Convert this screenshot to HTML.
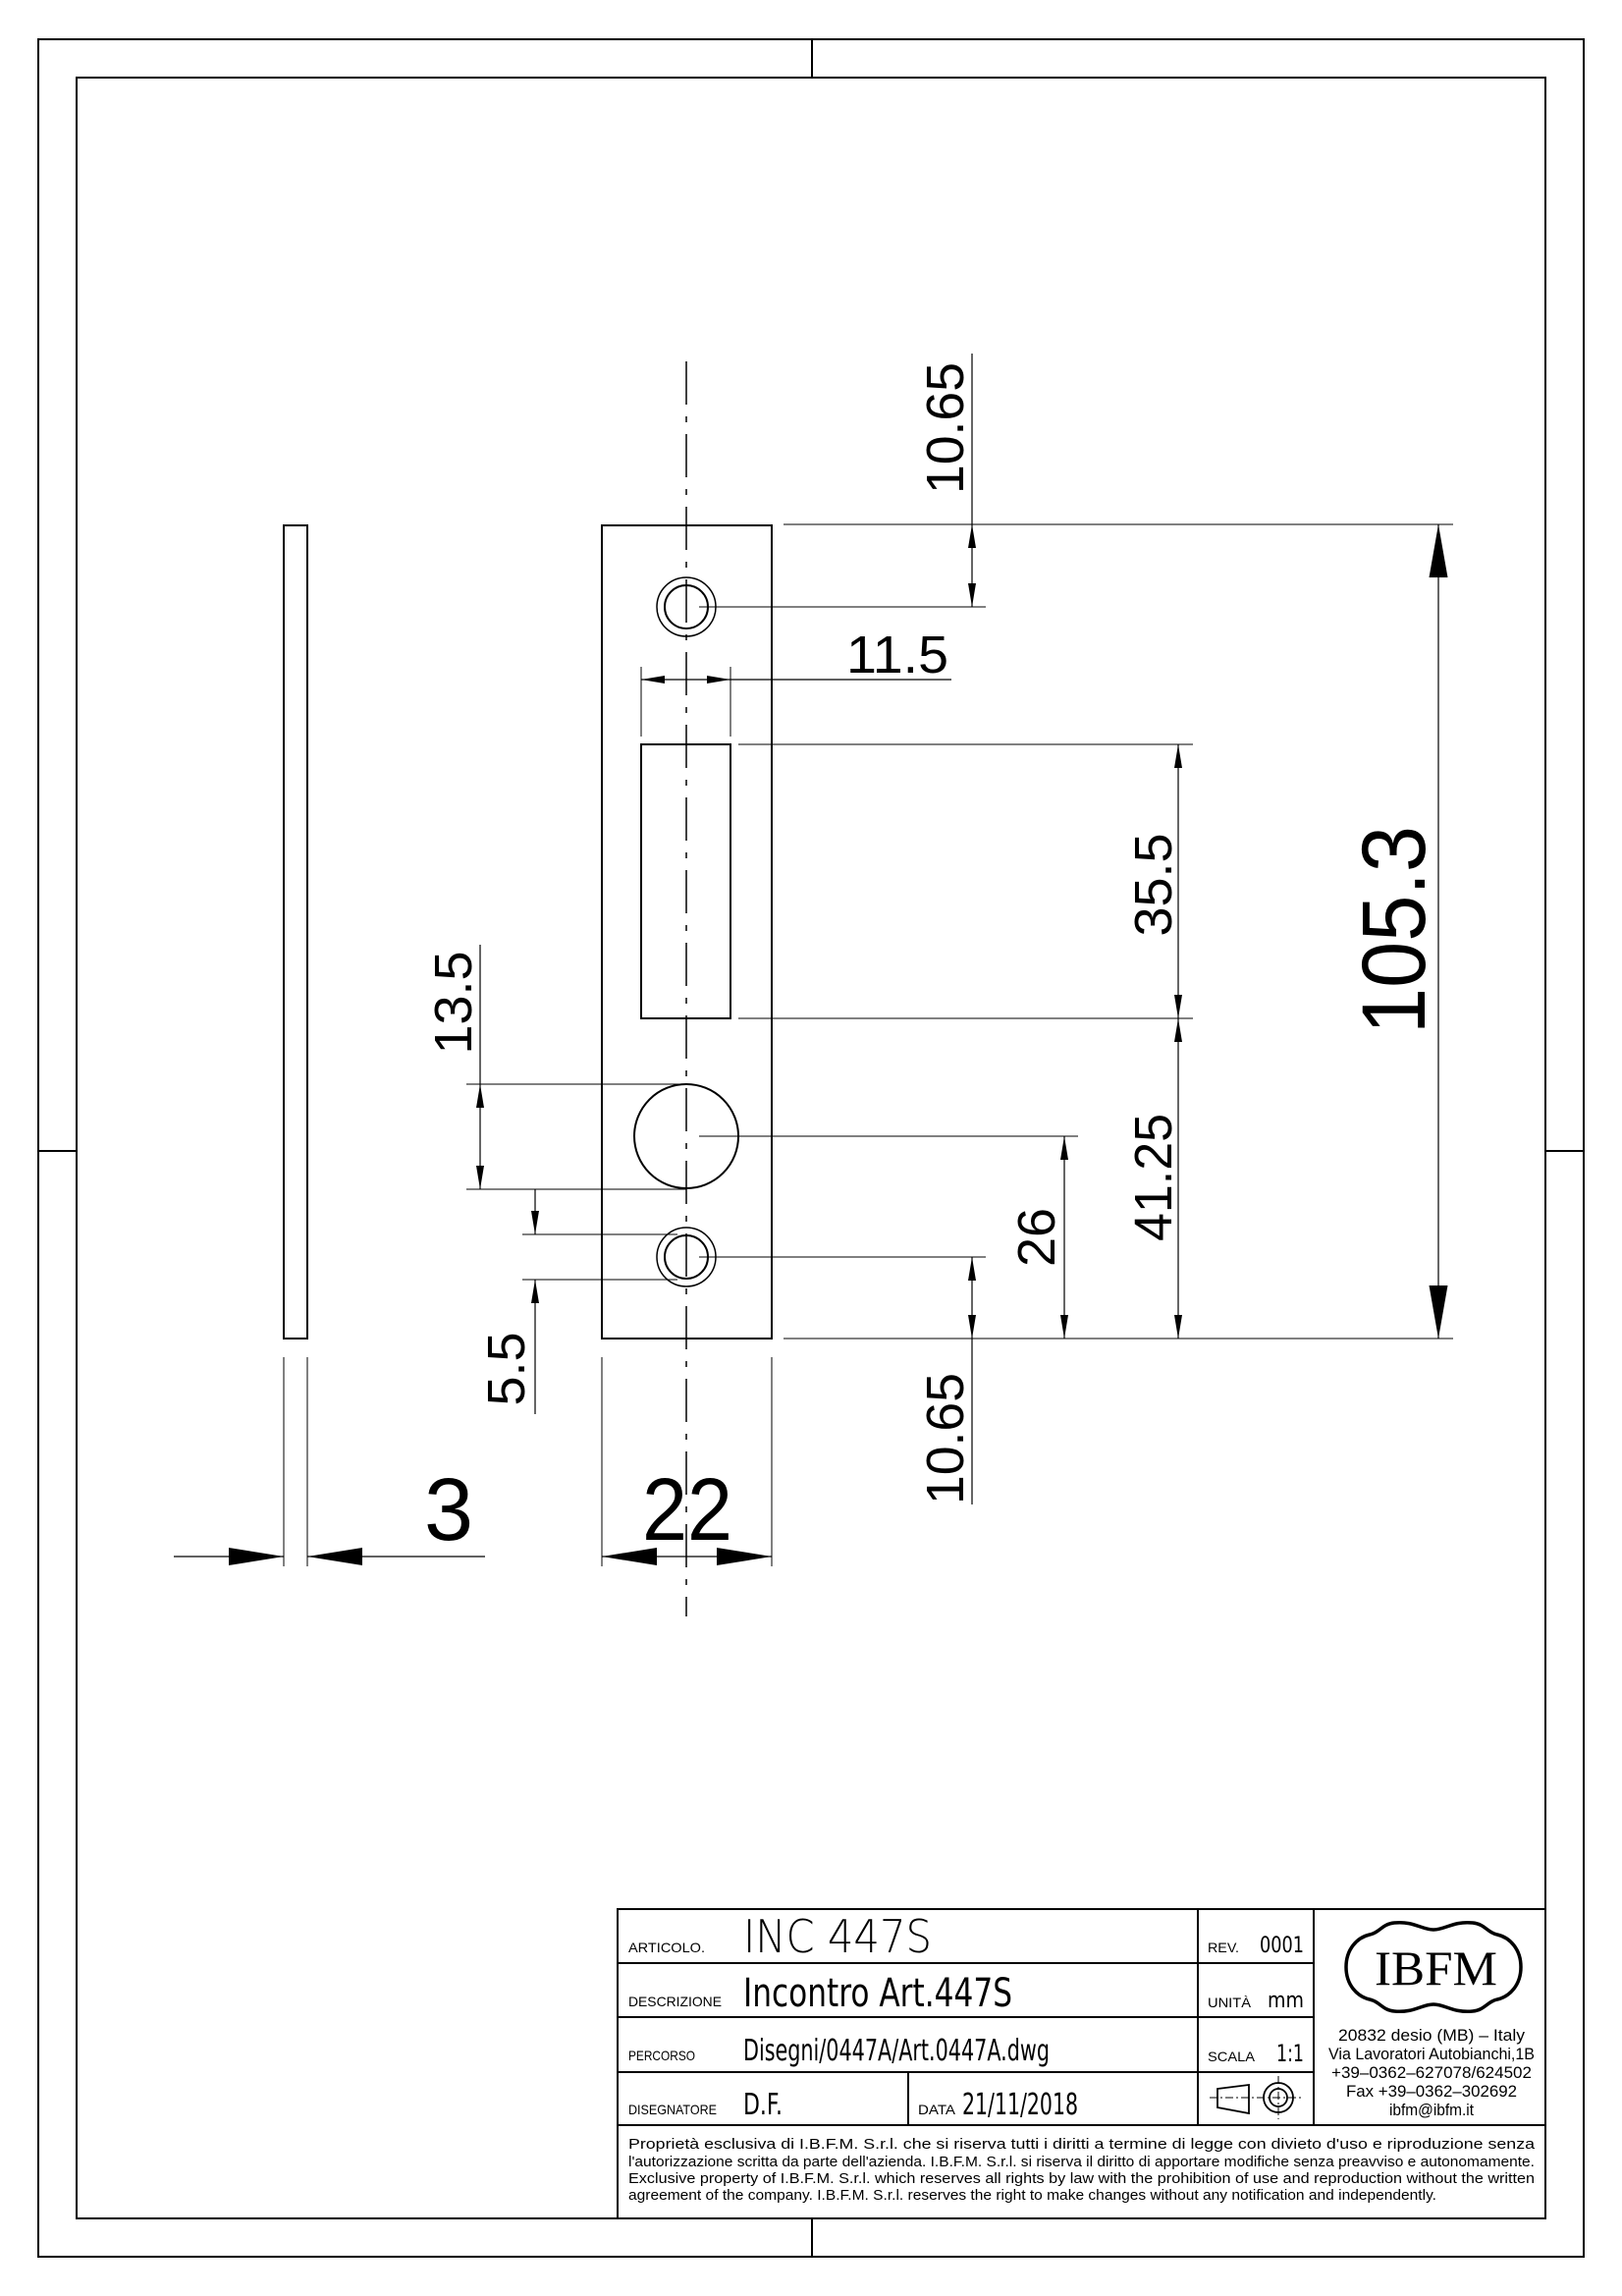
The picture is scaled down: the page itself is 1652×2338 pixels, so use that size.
<!DOCTYPE html>
<html><head><meta charset="utf-8"><style>
html,body{margin:0;padding:0;background:#fff}
svg{display:block}
text{font-family:"Liberation Sans",sans-serif;fill:#000}
</style></head><body>
<svg width="1652" height="2338" viewBox="0 0 1652 2338" xmlns="http://www.w3.org/2000/svg">
<defs>
<marker id="a" viewBox="0 0 24 8" refX="24" refY="4" markerWidth="24" markerHeight="8" markerUnits="userSpaceOnUse" orient="auto-start-reverse"><path d="M0,0 L24,4 L0,8 Z" fill="#000"/></marker>
</defs>
<!-- frame -->
<rect x="39" y="40" width="1574" height="2258" fill="none" stroke="#000" stroke-width="2"/>
<rect x="78" y="79" width="1496" height="2180" fill="none" stroke="#000" stroke-width="2"/>
<g stroke="#000" stroke-width="2">
<line x1="827" y1="40" x2="827" y2="79"/><line x1="827" y1="2259" x2="827" y2="2298"/>
<line x1="39" y1="1172" x2="78" y2="1172"/><line x1="1574" y1="1172" x2="1613" y2="1172"/>
</g>
<!-- parts -->
<g fill="none" stroke="#000" stroke-width="2">
<rect x="289" y="535" width="24" height="828"/>
<rect x="613" y="535" width="173" height="828"/>
<rect x="653" y="758" width="91" height="279"/>
<circle cx="699" cy="1157" r="53"/>
<circle cx="699" cy="618" r="30" stroke-width="1.5"/><circle cx="699" cy="618" r="22"/>
<circle cx="699" cy="1280" r="30" stroke-width="1.5"/><circle cx="699" cy="1280" r="22"/>
</g>
<!-- center line -->
<line x1="699" y1="368" x2="699" y2="1646" stroke="#000" stroke-width="1.5" stroke-dasharray="44,12,6,12"/>
<!-- ext lines -->
<g stroke="#000" stroke-width="1">
<line x1="798" y1="534" x2="1480" y2="534"/>
<line x1="798" y1="1363" x2="1480" y2="1363"/>
<line x1="712" y1="618" x2="1004" y2="618"/>
<line x1="712" y1="1280" x2="1004" y2="1280"/>
<line x1="752" y1="758" x2="1215" y2="758"/>
<line x1="752" y1="1037" x2="1215" y2="1037"/>
<line x1="712" y1="1157" x2="1098" y2="1157"/>
<line x1="475" y1="1104" x2="699" y2="1104"/>
<line x1="475" y1="1211" x2="699" y2="1211"/>
<line x1="532" y1="1257" x2="690" y2="1257"/>
<line x1="532" y1="1303" x2="690" y2="1303"/>
<line x1="653" y1="679" x2="653" y2="750"/>
<line x1="744" y1="679" x2="744" y2="750"/>
<line x1="289" y1="1382" x2="289" y2="1595"/>
<line x1="313" y1="1382" x2="313" y2="1595"/>
<line x1="613" y1="1382" x2="613" y2="1595"/>
<line x1="786" y1="1382" x2="786" y2="1595"/>
</g>
<!-- dim lines -->
<g stroke="#000" stroke-width="1.2" fill="none">
<line x1="990" y1="360" x2="990" y2="534"/>
<line x1="990" y1="534" x2="990" y2="618" marker-start="url(#a)" marker-end="url(#a)"/>
<line x1="990" y1="1280" x2="990" y2="1363" marker-start="url(#a)" marker-end="url(#a)"/>
<line x1="990" y1="1363" x2="990" y2="1532"/>
<line x1="653" y1="692" x2="744" y2="692" marker-start="url(#a)" marker-end="url(#a)"/>
<line x1="744" y1="692" x2="969" y2="692"/>
<line x1="1200" y1="758" x2="1200" y2="1037" marker-start="url(#a)" marker-end="url(#a)"/>
<line x1="1200" y1="1037" x2="1200" y2="1363" marker-start="url(#a)" marker-end="url(#a)"/>
<line x1="1084" y1="1157" x2="1084" y2="1363" marker-start="url(#a)" marker-end="url(#a)"/>
<line x1="489" y1="962" x2="489" y2="1104"/>
<line x1="489" y1="1104" x2="489" y2="1211" marker-start="url(#a)" marker-end="url(#a)"/>
<line x1="545" y1="1211" x2="545" y2="1257" marker-end="url(#a)"/>
<line x1="545" y1="1303" x2="545" y2="1440" marker-start="url(#a)"/>
<line x1="1465" y1="534" x2="1465" y2="1363"/>
<line x1="177" y1="1585" x2="289" y2="1585"/>
<line x1="313" y1="1585" x2="494" y2="1585"/>
<line x1="613" y1="1585" x2="786" y2="1585"/>
</g>
<g fill="#000">
<path d="M1465,534 L1455.5,588 L1474.5,588 Z"/>
<path d="M1465,1363 L1455.5,1309 L1474.5,1309 Z"/>
<path d="M289,1585 L233,1576 L233,1594 Z"/>
<path d="M313,1585 L369,1576 L369,1594 Z"/>
<path d="M613,1585 L669,1576 L669,1594 Z"/>
<path d="M786,1585 L730,1576 L730,1594 Z"/>
</g>
<!-- dim texts -->
<g font-size="54">
<text transform="translate(981,436) rotate(-90)" text-anchor="middle" textLength="134" lengthAdjust="spacingAndGlyphs">10.65</text>
<text transform="translate(981,1465) rotate(-90)" text-anchor="middle" textLength="134" lengthAdjust="spacingAndGlyphs">10.65</text>
<text transform="translate(1193,901) rotate(-90)" text-anchor="middle">35.5</text>
<text transform="translate(1193,1199) rotate(-90)" text-anchor="middle" textLength="130" lengthAdjust="spacingAndGlyphs">41.25</text>
<text transform="translate(1074,1260) rotate(-90)" text-anchor="middle">26</text>
<text transform="translate(480,1021) rotate(-90)" text-anchor="middle">13.5</text>
<text transform="translate(534,1394) rotate(-90)" text-anchor="middle">5.5</text>
<text x="914" y="685" text-anchor="middle" textLength="104" lengthAdjust="spacingAndGlyphs">11.5</text>
</g>
<text transform="translate(1451,947) rotate(-90)" text-anchor="middle" font-size="92" textLength="212" lengthAdjust="spacingAndGlyphs">105.3</text>
<text x="457" y="1568" text-anchor="middle" font-size="90">3</text>
<text x="700" y="1568" text-anchor="middle" font-size="90" textLength="92" lengthAdjust="spacingAndGlyphs">22</text>
<!-- title block -->
<g fill="none" stroke="#000" stroke-width="2">
<rect x="629" y="1944" width="945" height="315"/>
<line x1="629" y1="1999" x2="1338" y2="1999"/>
<line x1="629" y1="2054" x2="1338" y2="2054"/>
<line x1="629" y1="2110" x2="1338" y2="2110"/>
<line x1="629" y1="2164" x2="1574" y2="2164"/>
<line x1="1220" y1="1944" x2="1220" y2="2164"/>
<line x1="1338" y1="1944" x2="1338" y2="2164"/>
<line x1="925" y1="2110" x2="925" y2="2164"/>
</g>
<g font-size="14">
<text x="640" y="1988" textLength="78" lengthAdjust="spacingAndGlyphs">ARTICOLO.</text>
<text x="640" y="2043" textLength="95" lengthAdjust="spacingAndGlyphs">DESCRIZIONE</text>
<text x="640" y="2098" textLength="68" lengthAdjust="spacingAndGlyphs">PERCORSO</text>
<text x="640" y="2153" textLength="90" lengthAdjust="spacingAndGlyphs">DISEGNATORE</text>
<text x="935" y="2153" textLength="38" lengthAdjust="spacingAndGlyphs">DATA</text>
<text x="1230" y="1988" textLength="32" lengthAdjust="spacingAndGlyphs">REV.</text>
<text x="1230" y="2044" textLength="44" lengthAdjust="spacingAndGlyphs">UNITÀ</text>
<text x="1230" y="2099" textLength="48" lengthAdjust="spacingAndGlyphs">SCALA</text>
</g>
<g font-weight="normal">
<text x="757" y="1988" font-size="46" textLength="192" lengthAdjust="spacingAndGlyphs" style="font-family:'DejaVu Sans',sans-serif;font-weight:200">INC  447S</text>
<text x="757" y="2043" font-size="40" textLength="274" lengthAdjust="spacingAndGlyphs" style="font-family:'DejaVu Sans',sans-serif">Incontro Art.447S</text>
<text x="757" y="2098" font-size="30" textLength="312" lengthAdjust="spacingAndGlyphs" style="font-family:'DejaVu Sans',sans-serif">Disegni/0447A/Art.0447A.dwg</text>
<text x="757" y="2153" font-size="30" textLength="40" lengthAdjust="spacingAndGlyphs" style="font-family:'DejaVu Sans',sans-serif">D.F.</text>
<text x="980" y="2153" font-size="30" textLength="118" lengthAdjust="spacingAndGlyphs" style="font-family:'DejaVu Sans',sans-serif">21/11/2018</text>
<text x="1283" y="1988" font-size="22" textLength="45" lengthAdjust="spacingAndGlyphs" style="font-family:'DejaVu Sans',sans-serif">0001</text>
<text x="1291" y="2044" font-size="22" textLength="37" lengthAdjust="spacingAndGlyphs" style="font-family:'DejaVu Sans',sans-serif">mm</text>
<text x="1300" y="2099" font-size="24" textLength="28" lengthAdjust="spacingAndGlyphs" style="font-family:'DejaVu Sans',sans-serif">1:1</text>
</g>
<!-- projection symbol -->
<g fill="none" stroke="#000" stroke-width="1.8">
<path d="M1240,2127 L1272,2123 L1272,2152 L1240,2146 Z"/>
<circle cx="1302" cy="2136" r="15"/><circle cx="1302" cy="2136" r="9"/>
</g>
<g stroke="#000" stroke-width="1" stroke-dasharray="8,3,2,3">
<line x1="1232" y1="2136" x2="1327" y2="2136"/>
<line x1="1302" y1="2114" x2="1302" y2="2158"/>
</g>
<!-- logo -->
<path d="M1371,2003 C1371,1985 1382,1973 1395,1970 C1405,1968 1408,1959 1420,1958 C1440,1956 1448,1965 1460,1965 C1472,1965 1480,1956 1500,1958 C1512,1959 1515,1968 1525,1970 C1538,1973 1549,1985 1549,2003 C1549,2021 1538,2033 1525,2036 C1515,2038 1512,2047 1500,2048 C1480,2050 1472,2041 1460,2041 C1448,2041 1440,2050 1420,2048 C1408,2047 1405,2038 1395,2036 C1382,2033 1371,2021 1371,2003 Z" fill="none" stroke="#000" stroke-width="3.5"/>
<text x="1400" y="2021" font-size="50" textLength="125" lengthAdjust="spacingAndGlyphs" style="font-family:'Liberation Serif',serif;font-weight:100">IBFM</text>
<g font-size="17" text-anchor="middle" style="font-family:'DejaVu Sans',sans-serif">
<text x="1458" y="2078" textLength="190" lengthAdjust="spacingAndGlyphs">20832 desio (MB) – Italy</text>
<text x="1458" y="2097" textLength="210" lengthAdjust="spacingAndGlyphs">Via Lavoratori Autobianchi,1B</text>
<text x="1458" y="2116" textLength="204" lengthAdjust="spacingAndGlyphs">+39–0362–627078/624502</text>
<text x="1458" y="2135" textLength="174" lengthAdjust="spacingAndGlyphs">Fax +39–0362–302692</text>
<text x="1458" y="2154" textLength="86" lengthAdjust="spacingAndGlyphs">ibfm@ibfm.it</text>
</g>
<g font-size="15" style="font-family:'DejaVu Sans',sans-serif">
<text x="640" y="2188" textLength="923" lengthAdjust="spacingAndGlyphs">Proprietà esclusiva di I.B.F.M. S.r.l. che si riserva tutti i diritti a termine di legge con divieto d'uso e riproduzione senza</text>
<text x="640" y="2206" textLength="923" lengthAdjust="spacingAndGlyphs">l'autorizzazione scritta da parte dell'azienda. I.B.F.M. S.r.l. si riserva il diritto di apportare modifiche senza preavviso e autonomamente.</text>
<text x="640" y="2223" textLength="923" lengthAdjust="spacingAndGlyphs">Exclusive property of I.B.F.M. S.r.l. which reserves all rights by law with the prohibition of use and reproduction without the written</text>
<text x="640" y="2240" textLength="823" lengthAdjust="spacingAndGlyphs">agreement of the company. I.B.F.M. S.r.l. reserves the right to make changes without any notification and independently.</text>
</g>
</svg>
</body></html>
